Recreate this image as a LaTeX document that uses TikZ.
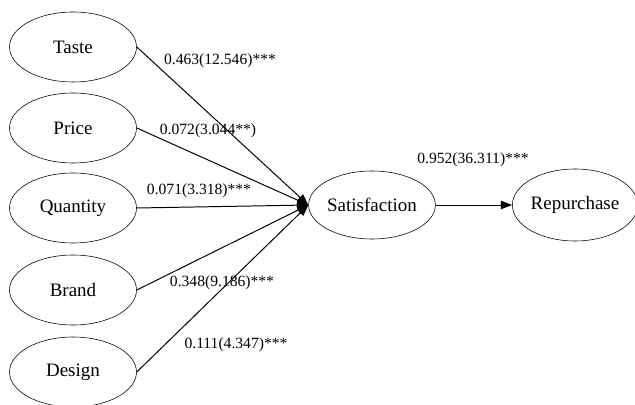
\documentclass[tikz,border=0pt]{standalone}
\usepackage{fontspec}
\setmainfont{Liberation Serif}
\usetikzlibrary{arrows.meta,shapes.geometric}

\tikzset{
  var/.style={draw, ellipse, inner sep=0pt, minimum width=127*0.025cm, minimum height=70*0.025cm, font=\fontsize{13.5}{15}\selectfont},
  coef/.style={font=\fontsize{11.1}{12}\selectfont, inner sep=0pt},
  path/.style={line width=0.7pt, -{Triangle[length=8pt, width=6pt]}}
}

\begin{document}
\begin{tikzpicture}[x=0.025cm, y=-0.025cm]
            \useasboundingbox (0,0) rectangle (635,405);
            \node[var] (taste) at (73,47) {Taste};
            \node[var] (price) at (73,128) {Price};
            \node[var] (quant) at (73,208) {Quantity};
            \node[var] (brand) at (73,290) {Brand};
            \node[var] (design) at (73,372) {Design};
            \node[var, minimum width=126*0.025cm, minimum height=68*0.025cm] (sat) at (372,205) {Satisfaction};
            \node[var, minimum width=122*0.025cm, minimum height=72*0.025cm] (rep) at (575,205) {Repurchase};
            % paths to satisfaction
            \draw[path] (taste.east) -- (sat.west);
            \draw[path] (price.east) -- (sat.west);
            \draw[path] (quant.east) -- (sat.west);
            \draw[path] (brand.east) -- (sat.west);
            \draw[path] (design.east) -- (sat.west);
            \draw[path] (sat.east) -- (rep.west);
            \node[coef] (ct) at (220,61) {0.463(12.546)***};
            \node[coef] (cp) at (208,131) {0.072(3.044**)};
            \node[coef] (cq) at (199,191) {0.071(3.318)***};
            \node[coef] (cb) at (222,283) {0.348(9.186)***};
            \node[coef] (cd) at (236,345) {0.111(4.347)***};
            \node[coef] (cs) at (473,160) {0.952(36.311)***};
        \end{tikzpicture}
\end{document}
